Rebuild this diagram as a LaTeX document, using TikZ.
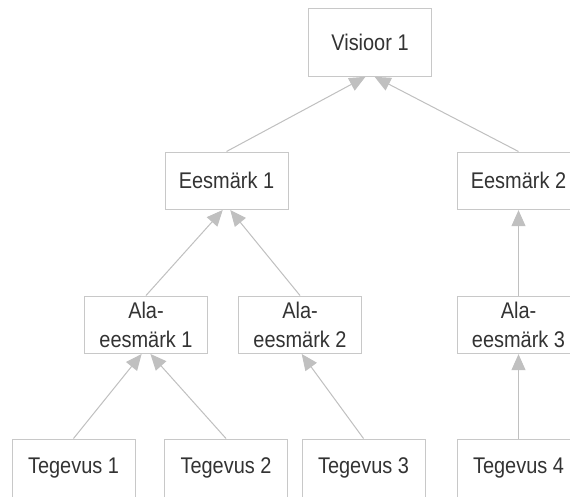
\documentclass[tikz,border=0pt]{standalone}
\usepackage{fontspec}
\setmainfont[FakeStretch=0.88]{Liberation Sans}
\usetikzlibrary{arrows.meta}
\definecolor{txtgray}{HTML}{333333}
\definecolor{linegray}{HTML}{C0C0C0}
\definecolor{boxgray}{HTML}{C8C8C8}
\begin{document}
\begin{tikzpicture}[x=0.75pt,y=-0.75pt,
  box/.style={draw=boxgray, line width=0.75pt, fill=white, minimum width=92.25pt, minimum height=42.75pt,
    inner sep=0pt, align=center, text=txtgray, font=\fontsize{17pt}{21.75pt}\selectfont},
  conn/.style={draw=linegray, line width=0.75pt, -{Triangle[length=12pt,width=10.5pt]}, shorten >=0.5pt}]
\useasboundingbox (0,0) rectangle (570,496);
\fill[white] (0,0) rectangle (570,496);
\node[box, minimum height=51pt] (V) at (370,42) {Visioor 1};
\node[box] (E1) at (226.5,180.5) {Eesmärk 1};
\node[box] (E2) at (518.5,180.5) {Eesmärk 2};
\node[box] (A1) at (146,324.5) {Ala-\\eesmärk 1};
\node[box] (A2) at (300,324.5) {Ala-\\eesmärk 2};
\node[box] (A3) at (518.5,324.5) {Ala-\\eesmärk 3};
\node[box, minimum height=43.5pt] (T1) at (73.5,468) {Tegevus 1};
\node[box, minimum height=43.5pt] (T2) at (226,468) {Tegevus 2};
\node[box, minimum height=43.5pt] (T3) at (363.5,468) {Tegevus 3};
\node[box, minimum height=43.5pt] (T4) at (518.5,468) {Tegevus 4};
\draw[conn] (E1.north) -- ([xshift=-3pt]V.south);
\draw[conn] (E2.north) -- ([xshift=3pt]V.south);
\draw[conn] (A1.north) -- ([xshift=-2.5pt]E1.south);
\draw[conn] (A2.north) -- ([xshift=2.5pt]E1.south);
\draw[conn] (A3.north) -- (E2.south);
\draw[conn] (T1.north) -- ([xshift=-3pt]A1.south);
\draw[conn] (T2.north) -- ([xshift=3pt]A1.south);
\draw[conn] (T3.north) -- ([xshift=1pt]A2.south);
\draw[conn] (T4.north) -- (A3.south);
\end{tikzpicture}
\end{document}
